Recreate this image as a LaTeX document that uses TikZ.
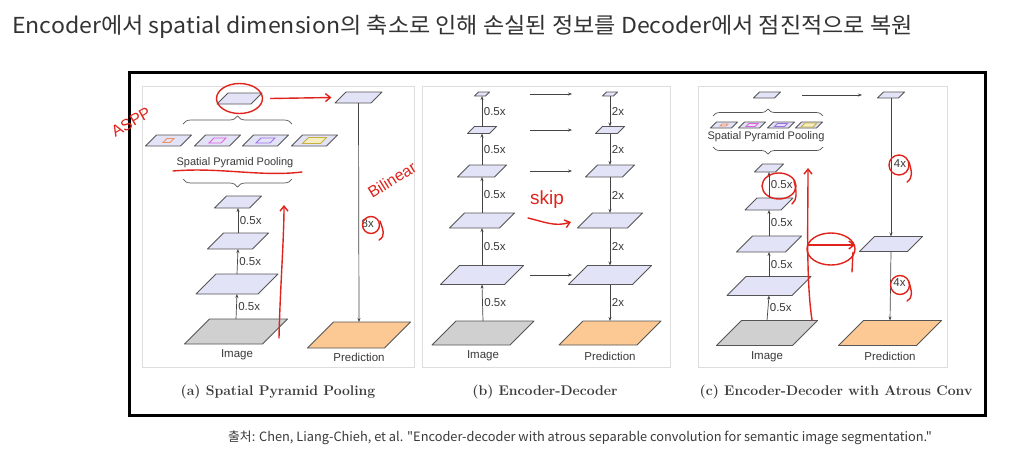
\documentclass[tikz,border=0pt]{standalone}
\usepackage{fontspec}
\newfontfamily\krfont{Noto Sans CJK KR}
\newfontfamily\arialfont{Liberation Sans}
\usetikzlibrary{arrows.meta,decorations.pathreplacing}
\definecolor{lav}{HTML}{E3E3F8}
\definecolor{imggray}{HTML}{D0D0D0}
\definecolor{predor}{HTML}{FCC894}
\definecolor{laycol}{HTML}{555555}
\definecolor{arrcol}{HTML}{444444}
\definecolor{txtcol}{HTML}{3A3A3A}
\definecolor{panelcol}{HTML}{DDDDDD}
\definecolor{inkred}{HTML}{E0241C}
\definecolor{titlecol}{HTML}{333333}
\definecolor{sppA}{HTML}{F0905A}
\definecolor{sppB}{HTML}{E060E0}
\definecolor{sppC}{HTML}{A070E8}
\definecolor{sppD}{HTML}{C8B040}
\definecolor{sppDf}{HTML}{F4EEC0}
\newcommand\lyr[6]{%
  \node[minimum width={#4+#5}, minimum height={#5}, inner sep=0pt, outer sep=0pt] (#1) at (#2,#3) {};
  \draw[lay, fill=#6] (#1.south west) -- ++(#4,0) -- (#1.north east) -- ++(-#4,0) -- cycle;}
\newcommand\inner[5]{% center x, y, w, h, colour
  \draw[line width=0.9pt, draw=#5] ({#1-(#3+#4)/2},{#2+#4/2}) -- ++(#3,0) -- ++(#4,-#4) -- ++(-#3,0) -- cycle;}
\tikzset{
  lay/.style={draw=laycol, line width=0.9pt, line join=round},
  arr/.style={draw=arrcol, line width=0.7pt, -{Stealth[length=4pt,width=3pt]}},
  lbl/.style={font=\arialfont\fontsize{11.5}{13}\selectfont, text=txtcol, inner sep=1.5pt},
  panel/.style={draw=panelcol, line width=0.6pt, fill=white, inner sep=0pt},
  captxt/.style={font=\fontsize{14}{16}\selectfont\bfseries, text=txtcol},
  brc/.style={draw=laycol, line width=0.7pt, decorate, decoration={brace, amplitude=8pt}},
  ink/.style={draw=inkred, line width=1.4pt, line cap=round, line join=round},
  inkarr/.style={ink, -{Straight Barb[length=5pt,width=8pt]}},
  inktext/.style={text=inkred, font=\arialfont\fontsize{16}{18}\selectfont, inner sep=0pt}
}
\begin{document}
\begin{tikzpicture}[x=1pt,y=-1pt]
\useasboundingbox (0,0) rectangle (1020,456);
\fill[white] (0,0) rectangle (1020,456);
% title
\node[anchor=west, inner sep=0pt, text=titlecol, xscale=1.05, font=\krfont\fontsize{22}{24}\selectfont] (title) at (12,27) {Encoder에서 spatial dimension의 축소로 인해 손실된 정보를 Decoder에서 점진적으로 복원};
% frame
\node[draw=black, line width=3pt, minimum width=856, minimum height=343, inner sep=0pt] (frame) at (557,243.5) {};
% panels
\node[panel, minimum width=272, minimum height=281] (pa) at (278,226.5) {};
\node[panel, minimum width=248, minimum height=281] (pb) at (546,226.5) {};
\node[panel, minimum width=249, minimum height=281] (pc) at (822.5,226.5) {};
% captions
\node[captxt] (capa) at (278,392) {(a) Spatial Pyramid Pooling};
\node[captxt] (capb) at (545,392) {(b) Encoder-Decoder};
\node[captxt] (capc) at (836,392) {(c) Encoder-Decoder with Atrous Conv};

%% ---------- panel (a)
\lyr{aI}{236}{331.5}{78}{25}{imggray}
\lyr{a1}{237}{284}{62}{20}{lav}
\lyr{a2}{238}{241}{45}{16}{lav}
\lyr{a3}{238}{202}{35}{12}{lav}
\lyr{s1}{168.5}{140.5}{35}{11}{lav}
\lyr{s2}{217.5}{140.5}{35}{11}{lav}
\lyr{s3}{265.5}{140.5}{35}{11}{lav}
\lyr{s4}{314.5}{140.5}{35}{11}{lav}
\inner{168.5}{140.5}{7}{4}{sppA}
\draw[line width=0.9pt, draw=sppD, fill=sppDf] ({314.5-(18+6)/2},{140.5+3}) -- ++(18,0) -- ++(6,-6) -- ++(-18,0) -- cycle;
\inner{217.5}{140.5}{12}{5}{sppB}
\inner{265.5}{140.5}{14}{5}{sppC}
\lyr{aT}{239.5}{98.5}{34}{11}{lav}
\lyr{aD}{358.5}{97.5}{36}{11}{lav}
\lyr{aP}{359}{335}{77}{26}{predor}
\node[lbl, font=\arialfont\fontsize{11}{13}\selectfont] (sppa) at (235,163) {Spatial Pyramid Pooling};
\draw[brc] (183,124) -- (292,124);
\draw[brc] (292,179) -- (183,179);
\draw[arr] (aI.north) -- (a1.south) node[lbl, midway, right] {0.5x};
\draw[arr] (a1.north) -- (a2.south) node[lbl, midway, right] {0.5x};
\draw[arr] (a2.north) -- (a3.south) node[lbl, midway, right] {0.5x};
\draw[arr] (aD.south) -- (aP.north) node[lbl, pos=0.55, right, xshift=1pt] {8x};
\node[lbl] (imla) at (237,355) {Image};
\node[lbl] (prla) at (359,357) {Prediction};

%% ---------- panel (b)
\lyr{bI}{483}{333}{78}{24}{imggray}
\lyr{b1}{482}{275}{64}{19}{lav}
\lyr{b2}{482}{220.5}{50}{15}{lav}
\lyr{b3}{482}{171}{37}{12}{lav}
\lyr{b4}{482}{130}{22}{7}{lav}
\lyr{b5}{482}{94}{11}{4}{lav}
\lyr{dP}{610}{333}{78}{24}{predor}
\lyr{d1}{610}{275}{64}{19}{lav}
\lyr{d2}{610}{220.5}{50}{15}{lav}
\lyr{d3}{610}{171}{37}{12}{lav}
\lyr{d4}{610}{130}{22}{7}{lav}
\lyr{d5}{610}{94}{11}{4}{lav}
\draw[arr] (bI.north) -- (b1.south) node[lbl, midway, right] {0.5x};
\draw[arr] (b1.north) -- (b2.south) node[lbl, midway, right] {0.5x};
\draw[arr] (b2.north) -- (b3.south) node[lbl, midway, right] {0.5x};
\draw[arr] (b3.north) -- (b4.south) node[lbl, midway, right] {0.5x};
\draw[arr] (b4.north) -- (b5.south) node[lbl, midway, right] {0.5x};
\draw[arr] (d5.south) -- (d4.north) node[lbl, midway, right] {2x};
\draw[arr] (d4.south) -- (d3.north) node[lbl, midway, right] {2x};
\draw[arr] (d3.south) -- (d2.north) node[lbl, midway, right] {2x};
\draw[arr] (d2.south) -- (d1.north) node[lbl, midway, right] {2x};
\draw[arr] (d1.south) -- (dP.north) node[lbl, midway, right] {2x};
\draw[arr, shorten <=48pt, shorten >=38pt] (b5.center) -- (d5.center);
\draw[arr, shorten <=48pt, shorten >=38pt] (b4.center) -- (d4.center);
\draw[arr, shorten <=48pt, shorten >=38pt] (b3.center) -- (d3.center);
\draw[arr, shorten <=48pt, shorten >=38pt] (b1.center) -- (d1.center);
\node[lbl] (imlb) at (483,356) {Image};
\node[lbl] (prlb) at (610,356) {Prediction};

%% ---------- panel (c)
\lyr{cI}{767}{333}{76}{25}{imggray}
\lyr{c1}{769}{286}{65}{19}{lav}
\lyr{c2}{769}{244}{49}{16}{lav}
\lyr{c3}{769}{204}{36}{12}{lav}
\lyr{c4}{769}{168}{21}{8}{lav}
\lyr{t1}{724}{125}{21}{6}{lav}
\lyr{t2}{752}{125}{21}{6}{lav}
\lyr{t3}{781}{125}{21}{6}{lav}
\lyr{t4}{809}{125}{21}{6}{lav}
\inner{724}{125}{6}{2}{sppA}
\inner{752}{125}{9}{3}{sppB}
\inner{781}{125}{10}{3}{sppC}
\draw[line width=0.8pt, draw=sppD, fill=sppDf] ({809-(12+4)/2},{125+2}) -- ++(12,0) -- ++(4,-4) -- ++(-12,0) -- cycle;
\lyr{cT}{767}{95}{21}{6}{lav}
\lyr{eD}{891}{95}{21}{6}{lav}
\lyr{eM}{891}{244}{48}{15}{lav}
\lyr{eP}{890}{333}{78}{25}{predor}
\node[lbl, font=\arialfont\fontsize{11}{13}\selectfont] (sppc) at (766,137) {Spatial Pyramid Pooling};
\draw[brc, decoration={brace, amplitude=7pt}] (713,116) -- (823,116);
\draw[brc, decoration={brace, amplitude=7pt}] (823,147) -- (713,147);
\draw[arr] (cI.north) -- (c1.south) node[lbl, midway, right] {0.5x};
\draw[arr] (c1.north) -- (c2.south) node[lbl, midway, right] {0.5x};
\draw[arr] (c2.north) -- (c3.south) node[lbl, midway, right] {0.5x};
\draw[arr] (c3.north) -- (c4.south) node[lbl, midway, right] {0.5x};
\draw[arr, shorten <=35pt, shorten >=29pt] (cT.center) -- (eD.center);
\draw[arr] (eD.south) -- (eM.north) node[lbl, pos=0.47, right, xshift=1pt] {4x};
\draw[arr] (eM.south) -- (eP.north) node[lbl, pos=0.45, right, xshift=1pt] {4x};
\node[lbl] (imlc) at (767,357) {Image};
\node[lbl] (prlc) at (890,356) {Prediction};

% source line
\node[anchor=west, inner sep=0pt, text=txtcol, font=\krfont\fontsize{12.8}{14}\selectfont] (src) at (228,438) {출처: Chen, Liang-Chieh, et al. "Encoder-decoder with atrous separable convolution for semantic image segmentation."};

%% ---------- red annotations
\draw[ink] (aT.center) ellipse [x radius=23, y radius=15];
\draw[inkarr] ([xshift=31pt]aT.center) -- ([xshift=-27pt]aD.center);
\node[inktext, rotate=30] (aspp) at (131,122) {ASPP};
\draw[ink] (173,171) .. controls (220,167) and (260,177) .. (302,172);
\coordinate (ra0) at (279,338);
\coordinate (ra1) at (284,205);
\draw[inkarr] (ra0) .. controls (280,290) and (284,240) .. (ra1);
\node[inktext, rotate=32, font=\arialfont\fontsize{16}{18}\selectfont] (bil) at (392,180) {Bilinear};
\draw[ink] (371,225) circle (8.5);
\draw[ink] (380,221) .. controls (383,230) and (386,236) .. (379,240);
\node[inktext, font=\arialfont\fontsize{19}{21}\selectfont] (skip) at (547,200) {skip};
\coordinate (rs0) at (528,218);
\coordinate (rs1) at (571,222);
\draw[inkarr] (rs0) .. controls (545,222) and (555,227) .. (rs1);
\draw[ink] (779,186) ellipse [x radius=17, y radius=13];
\draw[ink] (794,181) .. controls (797,192) and (797,200) .. (792,204);
\coordinate (rc0) at (812,320);
\coordinate (rc1) at (808,168);
\draw[inkarr] (rc0) .. controls (806,280) and (808,220) .. (rc1);
\draw[ink] (831,249) ellipse [x radius=24, y radius=16];
\coordinate (rh0) at (808,245);
\coordinate (rh1) at (855,245);
\draw[inkarr] (rh0) -- (rh1);
\draw[ink] (853,252) -- (852,272);
\draw[ink] (899,165) circle (10);
\draw[ink] (909,162) .. controls (912,172) and (913,178) .. (907,182);
\draw[ink] (900,285) circle (9.5);
\draw[ink] (909,282) .. controls (912,292) and (913,298) .. (907,301);
\end{tikzpicture}
\end{document}
